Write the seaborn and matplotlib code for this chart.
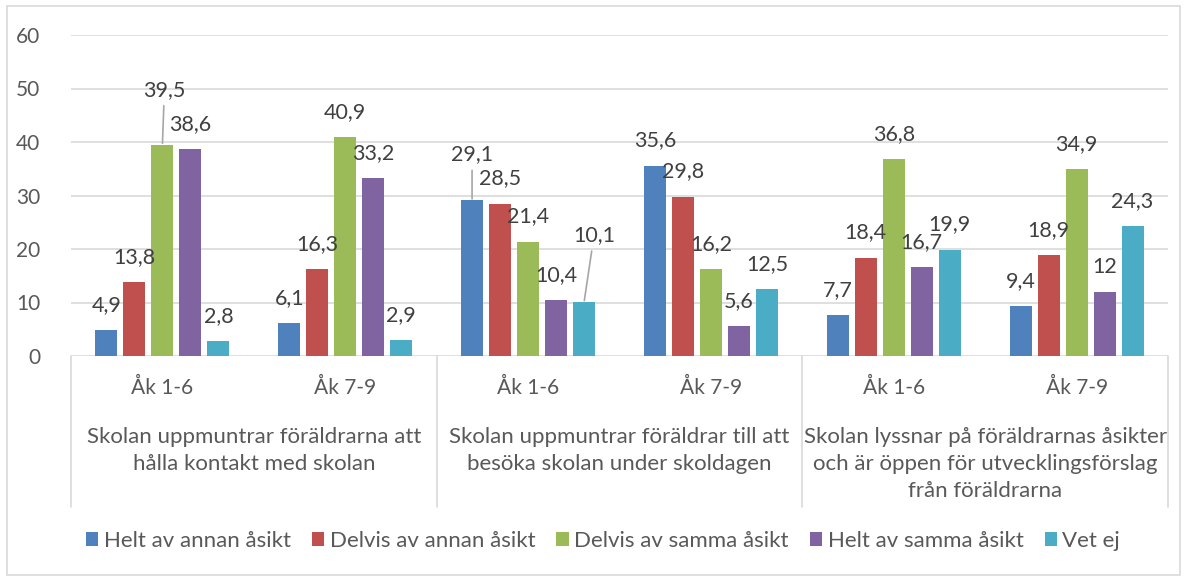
import numpy as np
import pandas as pd
import matplotlib
matplotlib.use("Agg")
import matplotlib.pyplot as plt
import matplotlib.transforms as mtransforms
from matplotlib.patches import Rectangle
import seaborn as sns

# data
groups = ["Skolan uppmuntrar föräldrarna att\nhålla kontakt med skolan",
          "Skolan uppmuntrar föräldrar till att\nbesöka skolan under skoldagen",
          "Skolan lyssnar på föräldrarnas åsikter\noch är öppen för utvecklingsförslag\nfrån föräldrarna"]
grades = ["Åk 1-6", "Åk 7-9"]
answers = ["Helt av annan åsikt", "Delvis av annan åsikt", "Delvis av samma åsikt",
           "Helt av samma åsikt", "Vet ej"]
colors = ["#4F81BD", "#C0504D", "#9BBB59", "#8064A2", "#4BACC6"]

helt_annan = [4.9, 6.1, 29.1, 35.6, 7.7, 9.4]
delvis_annan = [13.8, 16.3, 28.5, 29.8, 18.4, 18.9]
delvis_samma = [39.5, 40.9, 21.4, 16.2, 36.8, 34.9]
helt_samma = [38.6, 33.2, 10.4, 5.6, 16.7, 12.0]
vet_ej = [2.8, 2.9, 10.1, 12.5, 19.9, 24.3]
label_text = [["4,9", "6,1", "29,1", "35,6", "7,7", "9,4"],
              ["13,8", "16,3", "28,5", "29,8", "18,4", "18,9"],
              ["39,5", "40,9", "21,4", "16,2", "36,8", "34,9"],
              ["38,6", "33,2", "10,4", "5,6", "16,7", "12"],
              ["2,8", "2,9", "10,1", "12,5", "19,9", "24,3"]]


def main():
    series = [helt_annan, delvis_annan, delvis_samma, helt_samma, vet_ej]
    cats = [f"{g}|{a}" for g in range(len(groups)) for a in grades]
    rows = []
    for ans, vals in zip(answers, series):
        for c, v in zip(cats, vals):
            rows.append({"cat": c, "answer": ans, "value": v})
    df = pd.DataFrame(rows)

    sns.set_style("white")
    plt.rcParams["font.family"] = ["Lato", "DejaVu Sans"]

    fig = plt.figure(figsize=(11.87, 5.78), dpi=100)
    ax = fig.add_axes([71 / 1187, 222 / 578, 1097 / 1187, 321 / 578])

    sns.barplot(data=df, x="cat", y="value", hue="answer", order=cats,
                hue_order=answers, palette=colors, width=0.766, gap=0.214,
                linewidth=0, saturation=1, ax=ax)

    ax.set_ylim(0, 60)
    ax.set_xlim(-0.5, len(cats) - 0.5)
    ax.set_yticks(range(0, 61, 10))
    ax.yaxis.grid(True, color="#D9D9D9", lw=1.2)
    ax.set_axisbelow(True)
    for s in ax.spines.values():
        s.set_visible(False)
    ax.set_xlabel("")
    ax.set_ylabel("")
    ax.set_xticks(range(len(cats)))
    ax.set_xticklabels(grades * len(groups))
    ax.tick_params(axis="x", length=0, pad=16, labelsize=15, labelcolor="#595959")
    ax.tick_params(axis="y", length=0, pad=22, labelsize=15, labelcolor="#595959")

    # data labels, a few moved with leader lines like in the original
    special = {(2, 0): (2, 55), (0, 2): (0, 46), (4, 2): (10, 67)}
    for i, cont in enumerate(ax.containers):
        for j, bar in enumerate(cont):
            dx, dy = special.get((i, j), (0, 25))
            xc = bar.get_x() + bar.get_width() / 2
            h = bar.get_height()
            kw = {}
            if (i, j) in special:
                kw["arrowprops"] = dict(arrowstyle="-", color="#A6A6A6", lw=1.2,
                                        shrinkA=2, shrinkB=1)
            ax.annotate(label_text[i][j], xy=(xc, h), xytext=(dx, dy),
                        textcoords="offset pixels", ha="center", va="center",
                        fontsize=15.5, color="#404040", **kw)

    # multi level axis
    trans = mtransforms.blended_transform_factory(ax.transData, ax.transAxes)
    for k in range(len(groups) + 1):
        ax.plot([k * 2 - 0.5] * 2, [0, -0.47], color="#D9D9D9", lw=1.2,
                transform=trans, clip_on=False)
    for k, g in enumerate(groups):
        ax.text(k * 2 + 0.5, -0.222, g, transform=trans, ha="center", va="top",
                fontsize=16, color="#595959", linespacing=1.42)

    handles, labels = ax.get_legend_handles_labels()
    ax.get_legend().remove()
    fig.legend(handles, labels, loc="center", bbox_to_anchor=(0.508, 1 - 541 / 578),
               ncol=5, frameon=False, fontsize=16, labelcolor="#595959",
               handlelength=0.55, handleheight=0.55, handletextpad=0.25,
               columnspacing=0.95)

    fig.patches.append(Rectangle((7 / 1187, 3 / 578), 1173 / 1187, 569 / 578,
                                 transform=fig.transFigure, fill=False,
                                 ec="#D9D9D9", lw=1.2))

    fig.savefig("out.png", dpi=100)


if __name__ == "__main__":
    main()
